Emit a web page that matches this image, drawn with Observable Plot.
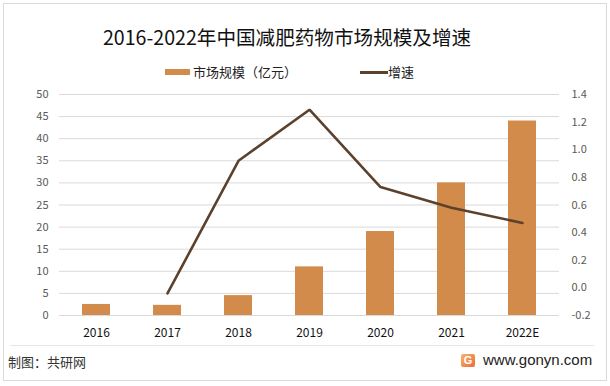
<!DOCTYPE html>
<html><head><meta charset="utf-8">
<script src="https://cdn.jsdelivr.net/npm/d3@7"></script>
<script src="https://cdn.jsdelivr.net/npm/@observablehq/plot@0.6"></script>
<style>
body{margin:0;background:#fff;font-family:"Noto Sans CJK SC","Noto Sans",sans-serif;}
#wrap{position:relative;width:610px;height:386px;overflow:hidden;background:#fff}
#frame{position:absolute;left:3px;top:3px;width:604px;height:378px;border:1px solid #d9d9d9;box-sizing:border-box}
#chart{position:absolute;left:0;top:0}
.abs{position:absolute;white-space:nowrap;line-height:1}
#title{left:103px;top:27px;font-size:19.6px;color:#111;}
.leg{top:65px;font-size:13px;color:#222}
#sep{position:absolute;left:10px;top:345px;width:584px;height:1px;background:#e6e6e6}
#src{left:8px;top:355px;font-size:13px;color:#333}
#site{left:483px;top:352px;font-size:15px;color:#222;font-family:"Liberation Sans",Arial,sans-serif}
#logo{position:absolute;left:461px;top:354px;width:14px;height:13px;border-radius:2px;background:linear-gradient(135deg,#f7b36b,#ee6a3a);color:#fff;font:bold 11px "Liberation Sans",Arial;text-align:center;line-height:13px}
</style></head>
<body>
<div id="wrap">
  <div id="frame"></div>
  <div id="chart"></div>
  <div id="title" class="abs"></div>
  <div class="abs leg" style="left:165px;top:69px;width:25px;height:6px;background:#d38b4c"></div>
  <div id="leg1" class="abs leg" style="left:193px"></div>
  <div class="abs leg" style="left:360px;top:71px;width:28px;height:3px;background:#5c412c"></div>
  <div id="leg2" class="abs leg" style="left:388px"></div>
  <div id="sep"></div>
  <div id="src" class="abs"></div>
  <div id="logo">G</div>
  <div id="site" class="abs"></div>
</div>
<script>
const titleText = "2016-2022年中国减肥药物市场规模及增速";
const seriesNames = ["市场规模（亿元）", "增速"];
const sourceText = "制图：共研网";
const siteText = "www.gonyn.com";
const years = ["2016", "2017", "2018", "2019", "2020", "2021", "2022E"];
const marketSize = [2.5, 2.3, 4.5, 11, 19, 30, 44];
const growth = [null, -0.04, 0.92, 1.29, 0.73, 0.58, 0.47];
const leftTicks = [0, 5, 10, 15, 20, 25, 30, 35, 40, 45, 50];
const rightTicks = [-0.2, 0, 0.2, 0.4, 0.6, 0.8, 1.0, 1.2, 1.4];

document.getElementById("title").textContent = titleText;
document.getElementById("leg1").textContent = seriesNames[0];
document.getElementById("leg2").textContent = seriesNames[1];
document.getElementById("src").textContent = sourceText;
document.getElementById("site").textContent = siteText;

const rMin = -0.2, rMax = 1.4, lMax = 50;
const toLeft = g => (g - rMin) / (rMax - rMin) * lMax;
const fromLeft = v => { const g = Math.round((v / lMax * (rMax - rMin) + rMin) * 10) / 10 + 0; return g.toFixed(1); };

const bars = years.map((y, i) => ({year: y, size: marketSize[i]}));
const lineData = years.map((y, i) => ({year: y, g: growth[i]})).filter(d => d.g != null);

const chart = Plot.plot({
  width: 610, height: 386,
  marginLeft: 59, marginRight: 51, marginTop: 94, marginBottom: 71,
  style: {fontFamily: '"Noto Sans CJK SC","Noto Sans",sans-serif', fontSize: "11px", background: "transparent", overflow: "visible"},
  x: {type: "band", domain: years, paddingInner: 0.6, paddingOuter: 0.3, label: null},
  y: {domain: [0, lMax], label: null},
  marks: [
    Plot.ruleY(leftTicks, {stroke: "#d9d9d9", strokeWidth: 1}),
    Plot.barY(bars, {x: "year", y: "size", fill: "#d38b4c"}),
    Plot.line(lineData, {x: "year", y: d => toLeft(d.g), stroke: "#5c412c", strokeWidth: 2.6, strokeLinejoin: "miter"}),
    Plot.axisY(leftTicks, {anchor: "left", tickSize: 0, tickPadding: 11, color: "#595959", fontSize: 11, label: null}),
    Plot.axisY(rightTicks.map(toLeft), {anchor: "right", tickSize: 0, tickPadding: 12, color: "#595959", fontSize: 11, tickFormat: fromLeft, label: null}),
    Plot.axisX(years, {tickSize: 0, tickPadding: 13, color: "#111", fontSize: 12, label: null})
  ]
});
document.getElementById("chart").appendChild(chart);
</script>
</body></html>
